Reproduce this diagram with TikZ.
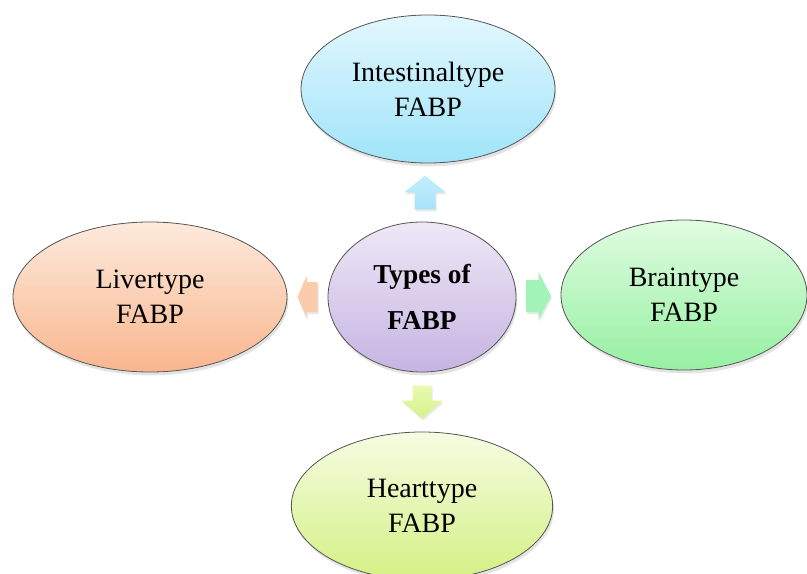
\documentclass[tikz,border=0pt]{standalone}
\usepackage{fontspec}
\setmainfont{Liberation Serif}
\usetikzlibrary{shapes.geometric,calc,shadows}

\definecolor{intestTop}{RGB}{226,247,253}
\definecolor{intestBot}{RGB}{160,228,250}
\definecolor{typesTop}{RGB}{238,232,246}
\definecolor{typesBot}{RGB}{198,180,226}
\definecolor{liverTop}{RGB}{253,234,220}
\definecolor{liverBot}{RGB}{248,182,142}
\definecolor{brainTop}{RGB}{224,252,224}
\definecolor{brainBot}{RGB}{150,240,162}
\definecolor{heartTop}{RGB}{245,252,226}
\definecolor{heartBot}{RGB}{212,240,132}
\definecolor{edgeGray}{RGB}{85,85,85}

\tikzset{
  fabp/.style={ellipse, draw=edgeGray, line width=0.6, inner sep=0pt, align=center,
    font=\fontsize{21}{26}\selectfont,
    drop shadow={opacity=0.22, shadow xshift=1pt, shadow yshift=-2.5pt}},
  blockarrow/.style={draw=none,
    drop shadow={opacity=0.18, shadow xshift=0.8pt, shadow yshift=-1.5pt}}
}

\begin{document}
\begin{tikzpicture}[x=0.75pt,y=0.75pt,yscale=-1,xscale=1]
\useasboundingbox (0,0) rectangle (807,574);

%Shape: Ellipse
\node [fabp, minimum width=190.5pt, minimum height=111pt, top color=intestTop, bottom color=intestBot] (intest) at (428,89) {Intestinaltype\\FABP};
%Shape: Ellipse
\node [fabp, minimum width=141pt, minimum height=112.5pt, top color=typesTop, bottom color=typesBot, font=\bfseries\fontsize{20.5}{34}\selectfont] (types) at (422,297) {Types of\\FABP};
%Shape: Ellipse
\node [fabp, minimum width=205.5pt, minimum height=112.5pt, top color=liverTop, bottom color=liverBot] (liver) at (150,297) {Livertype\\FABP};
%Shape: Ellipse
\node [fabp, minimum width=184.5pt, minimum height=112.5pt, top color=brainTop, bottom color=brainBot] (brain) at (684,295) {Braintype\\FABP};
%Shape: Ellipse
\node [fabp, minimum width=196pt, minimum height=111pt, top color=heartTop, bottom color=heartBot] (heart) at (422,506) {Hearttype\\FABP};

\coordinate (uparr) at ($(types.north)!0.5!(intest.south)$);
\coordinate (dnarr) at ($(types.south)!0.5!(heart.north)$);
\coordinate (ltarr) at ($(liver.east)!0.5!(types.west)$);
\coordinate (rtarr) at ($(types.east)!0.5!(brain.west)$);

%Shape: Up Arrow
\draw [blockarrow, shift={(uparr)}, top color={rgb,255:red,196;green,238;blue,252}, bottom color={rgb,255:red,168;green,226;blue,248}] (0,-17) -- (21,0) -- (10.5,0) -- (10.5,17) -- (-10.5,17) -- (-10.5,0) -- (-21,0) -- cycle ;
%Shape: Down Arrow
\draw [blockarrow, shift={(dnarr)}, top color={rgb,255:red,232;green,250;blue,176}, bottom color={rgb,255:red,214;green,242;blue,136}] (-9.5,-16.5) -- (9.5,-16.5) -- (9.5,-1.5) -- (20.5,-1.5) -- (0,16.5) -- (-20.5,-1.5) -- (-9.5,-1.5) -- cycle ;
%Shape: Left Arrow
\draw [blockarrow, shift={(ltarr)}, fill={rgb,255:red,250;green,204;blue,172}] (-10,0) -- (-1,-21) -- (-1,-15) -- (10,-15) -- (10,15) -- (-1,15) -- (-1,21) -- cycle ;
%Shape: Right Arrow
\draw [blockarrow, shift={(rtarr)}, fill={rgb,255:red,162;green,244;blue,182}] (12.5,0) -- (0,-24) -- (0,-16) -- (-12.5,-16) -- (-12.5,16) -- (0,16) -- (0,24) -- cycle ;

\end{tikzpicture}
\end{document}
